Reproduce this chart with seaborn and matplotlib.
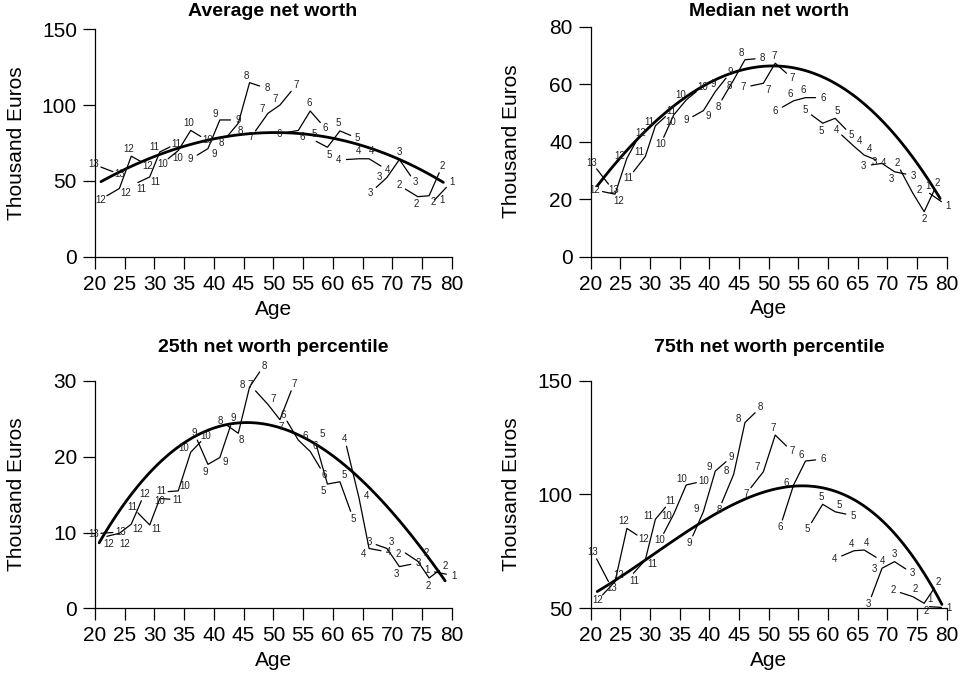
import numpy as np
import pandas as pd
import matplotlib
matplotlib.use("Agg")
import matplotlib.pyplot as plt
import seaborn as sns

# ---------------- data ----------------
COHORTS = [13, 12, 11, 10, 9, 8, 7, 6, 5, 4, 3, 2, 1]

# mean age of each cohort at each survey wave (shared by all panels)
COHORT_AGES = [
    [21.0, 23.0],
    [22.0, 24.1, 26.1, 27.8],
    [27.2, 29.2, 30.9, 32.6],
    [32.3, 34.0, 36.1, 37.8],
    [37.2, 39.0, 41.0, 42.8],
    [42.1, 44.1, 46.0, 47.7],
    [47.0, 49.1, 51.1, 53.0],
    [52.3, 54.2, 56.2, 57.9],
    [57.2, 59.1, 61.2, 63.0],
    [62.3, 64.4, 66.1, 68.1],
    [67.3, 69.1, 71.2, 73.1],
    [72.2, 74.3, 76.2, 77.9],
    [77.1, 79.1],
]

AVG_VALUES = [
    [59.1, 56.1],
    [40.2, 45.0, 66.3, 62.6],
    [48.9, 52.6, 69.1, 72.4],
    [64.6, 70.0, 83.3, 79.3],
    [67.0, 71.3, 90.2, 90.2],
    [78.7, 88.0, 114.8, 112.6],
    [83.0, 94.6, 100.0, 109.1],
    [82.0, 83.3, 96.1, 88.5],
    [76.1, 72.2, 83.0, 80.0],
    [64.1, 64.6, 64.6, 59.8],
    [45.7, 52.2, 64.1, 53.3],
    [44.6, 39.6, 40.2, 55.4],
    [37.4, 45.7],
]
MEDIAN_VALUES = [
    [30.5, 25.2],
    [22.6, 21.7, 34.2, 40.6],
    [29.5, 34.8, 45.5, 48.7],
    [41.5, 49.3, 54.5, 57.4],
    [48.7, 50.8, 57.4, 62.1],
    [54.5, 61.5, 68.5, 68.8],
    [59.4, 60.3, 67.3, 63.8],
    [52.0, 54.2, 55.3, 55.3],
    [49.3, 46.4, 48.1, 44.3],
    [42.3, 38.3, 35.3, 33.6],
    [31.9, 32.4, 29.5, 28.7],
    [30.1, 22.0, 15.6, 23.1],
    [22.0, 19.1],
]
P25_VALUES = [
    [9.9, 10.0],
    [9.5, 9.9, 11.1, 14.2],
    [12.6, 11.0, 14.5, 14.4],
    [15.4, 15.5, 20.6, 22.0],
    [22.2, 19.0, 19.9, 24.1],
    [24.2, 23.1, 29.2, 31.2],
    [28.7, 26.9, 24.9, 28.7],
    [24.7, 22.2, 20.7, 18.5],
    [21.6, 16.4, 16.7, 12.8],
    [21.4, 14.6, 7.9, 7.6],
    [8.4, 7.9, 5.5, 5.8],
    [7.3, 6.2, 4.0, 5.0],
    [4.8, 4.5],
]
P75_VALUES = [
    [71.7, 61.7],
    [55.9, 61.7, 85.1, 82.2],
    [65.4, 71.2, 89.1, 94.4],
    [82.9, 91.4, 104.2, 105.2],
    [81.8, 92.5, 110.3, 114.4],
    [96.4, 108.9, 131.6, 135.9],
    [103.0, 110.0, 126.1, 121.3],
    [88.8, 104.2, 114.7, 115.2],
    [87.6, 95.7, 92.4, 91.4],
    [73.0, 75.3, 75.6, 72.4],
    [55.1, 67.6, 70.5, 67.3],
    [56.9, 55.1, 52.2, 58.8],
    [50.7, 50.4],
]

# points on the fitted age profiles
AVG_FIT_AGE = [21.0, 25.3, 30.4, 33.7, 39.3, 42.2, 45.5, 50.0, 54.5, 59.8, 64.6, 71.0, 74.7, 78.6]
AVG_FIT_VAL = [49.6, 57.9, 66.8, 71.2, 77.2, 79.4, 81.0, 81.9, 81.3, 78.0, 73.5, 64.8, 57.8, 48.8]
MED_FIT_AGE = [21.1, 26.1, 31.1, 36.7, 42.9, 47.4, 51.1, 55.3, 60.9, 66.5, 72.1, 76.1, 78.9]
MED_FIT_VAL = [24.3, 37.1, 47.6, 56.6, 63.3, 65.6, 66.2, 65.0, 60.3, 52.2, 41.2, 30.1, 19.1]
P25_FIT_AGE = [20.7, 24.8, 29.5, 33.7, 36.8, 40.5, 45.5, 50.0, 53.4, 57.2, 62.9, 68.0, 72.4, 75.8, 78.9]
P25_FIT_VAL = [8.8, 13.4, 18.2, 21.2, 22.6, 23.9, 24.6, 24.2, 23.2, 21.5, 18.2, 14.4, 10.5, 7.0, 3.6]
P75_FIT_AGE = [21.1, 24.4, 28.3, 32.8, 37.9, 42.9, 48.0, 51.9, 56.4, 62.6, 68.2, 72.1, 75.5, 79.2]
P75_FIT_VAL = [57.8, 62.4, 69.5, 77.8, 85.9, 93.9, 100.5, 103.0, 104.2, 100.5, 90.2, 80.0, 66.8, 52.9]

TITLES = ["Average net worth", "Median net worth",
          "25th net worth percentile", "75th net worth percentile"]
X_TICKS = [20, 25, 30, 35, 40, 45, 50, 55, 60, 65, 70, 75, 80]
Y_TICKS = [[0, 50, 100, 150], [0, 20, 40, 60, 80], [0, 10, 20, 30], [50, 100, 150]]

# ---------------- style ----------------
sns.set_theme(style="ticks")
plt.rcParams['font.family'] = ['Liberation Sans', 'DejaVu Sans']
plt.rcParams['axes.linewidth'] = 0.9

W, H = 962, 677
DPI = 100
fig = plt.figure(figsize=(W / DPI, H / DPI), dpi=DPI)

# axes rectangles in pixels: left, top, right, bottom
RECTS = [(95, 29.3, 451.7, 256.7), (590.7, 26.7, 946.7, 256.5),
         (95, 381.0, 451.7, 608.3), (590.7, 380.7, 946.7, 608.3)]
TITLE_POS = [(273, 12), (769, 12), (273, 347), (769, 347)]

panels = [
    (AVG_VALUES, AVG_FIT_AGE, AVG_FIT_VAL),
    (MEDIAN_VALUES, MED_FIT_AGE, MED_FIT_VAL),
    (P25_VALUES, P25_FIT_AGE, P25_FIT_VAL),
    (P75_VALUES, P75_FIT_AGE, P75_FIT_VAL),
]

LABEL_FS = 7.0
OFF_PT = 5.5


def rot(v, ang):
    c, s = np.cos(ang), np.sin(ang)
    return np.array([c * v[0] - s * v[1], s * v[0] + c * v[1]])


def label_panel(ax, cohorts, ages_list, vals_list):
    placed = []
    off_px = OFF_PT * DPI / 72
    fs_px = LABEL_FS * DPI / 72
    for c, xs, ys in zip(cohorts, ages_list, vals_list):
        text = str(c)
        w = 0.62 * fs_px * len(text) + 2
        h = 0.9 * fs_px + 1
        pts = ax.transData.transform(np.column_stack([xs, ys]))
        n = len(pts)
        for i in range(n):
            vecs = []
            if i > 0:
                d = pts[i - 1] - pts[i]
                vecs.append(d / np.hypot(*d))
            if i < n - 1:
                d = pts[i + 1] - pts[i]
                vecs.append(d / np.hypot(*d))
            s = np.sum(vecs, axis=0)
            if np.hypot(*s) < 0.35:
                v = vecs[0]
                pref = np.array([-v[1], v[0]])
                if pref[1] < 0:
                    pref = -pref
            else:
                pref = -s / np.hypot(*s)
            cands = []
            for scale in (1.0, 1.6):
                for a in (0, 45, -45, 90, -90, 135, -135, 180):
                    cands.append(rot(pref, np.deg2rad(a)) * scale)
            chosen = None
            for dv in cands:
                cx, cy = pts[i] + dv * off_px
                ok = True
                for (px, py, pw, ph) in placed:
                    if abs(cx - px) < (w + pw) / 2 and abs(cy - py) < (h + ph) / 2:
                        ok = False
                        break
                if ok:
                    chosen = dv
                    break
            if chosen is None:
                chosen = pref
            cx, cy = pts[i] + chosen * off_px
            placed.append((cx, cy, w, h))
            ax.annotate(text, (xs[i], ys[i]),
                        xytext=(chosen[0] * OFF_PT, chosen[1] * OFF_PT),
                        textcoords='offset points', ha='center', va='center',
                        fontsize=LABEL_FS, color='#222222', annotation_clip=False)


for k, (vals, fa, fv) in enumerate(panels):
    l, t, r, b = RECTS[k]
    ax = fig.add_axes([l / W, 1 - b / H, (r - l) / W, (b - t) / H])
    yt = Y_TICKS[k]
    ax.set_xlim(20, 80)
    ax.set_ylim(yt[0], yt[-1])

    rows = []
    for c, ages, v in zip(COHORTS, COHORT_AGES, vals):
        for a, y in zip(ages, v):
            rows.append({"cohort": c, "age": a, "value": y})
    df = pd.DataFrame(rows)
    sns.lineplot(data=df, x="age", y="value", units="cohort", estimator=None,
                 sort=False, color="black", lw=0.9, ax=ax, legend=False)
    fit = pd.DataFrame({"age": fa, "value": fv})
    sns.regplot(data=fit, x="age", y="value", order=3, scatter=False, ci=None,
                truncate=True, ax=ax, line_kws=dict(color="black", lw=2.0))
    ax.set_xlim(20, 80)
    ax.set_ylim(yt[0], yt[-1])
    for line in ax.lines:
        line.set_clip_on(False)

    label_panel(ax, COHORTS, COHORT_AGES, vals)

    sns.despine(ax=ax)
    ax.set_xticks(X_TICKS)
    ax.set_yticks(yt)
    ax.tick_params(direction='out', length=8.5, width=0.9, labelsize=15,
                   pad=4.5, color='black', labelcolor='black')
    ax.set_xlabel("Age", fontsize=15, color='black')
    ax.set_ylabel("Thousand Euros", fontsize=15, color='black')
    ax.xaxis.set_label_coords(0.5, -43 / (b - t))
    ax.yaxis.set_label_coords(-69.5 / (r - l), 0.5)
    for sp in ax.spines.values():
        sp.set_color('black')
    ax.set_facecolor('none')

    tx, ty = TITLE_POS[k]
    fig.text(tx / W, 1 - ty / H, TITLES[k], ha='center', va='center',
             fontsize=14, fontweight='bold', color='black')

fig.savefig("out.png", dpi=DPI, facecolor='white')
